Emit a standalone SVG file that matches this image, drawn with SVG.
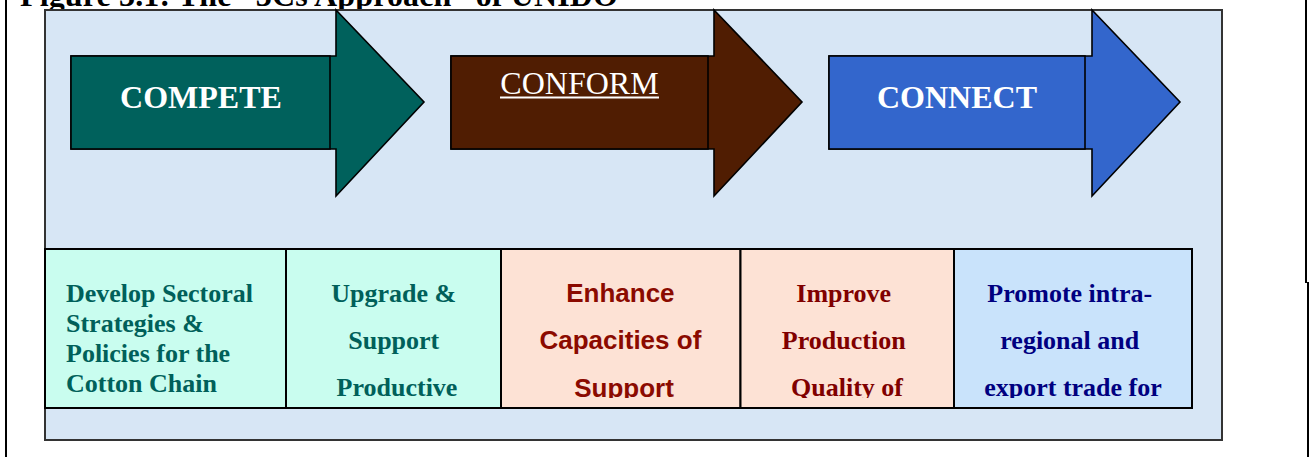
<svg xmlns="http://www.w3.org/2000/svg" width="1313" height="457" viewBox="0 0 1313 457">
  <style>
    .frame { stroke: #000; stroke-width: 2; fill: none; }
    .arrow { stroke: #000; stroke-width: 1.6; stroke-linejoin: miter; }
    .head { font-family: "Liberation Serif", "Times New Roman", serif; font-size: 32px; fill: #fff; text-anchor: middle; }
    .box { stroke: #000; stroke-width: 2; }
    .tnr { font-family: "Liberation Serif", "Times New Roman", serif; font-size: 26px; font-weight: bold; }
    .ari { font-family: "Liberation Sans", Arial, sans-serif; font-size: 26px; font-weight: bold; }
    .mid { text-anchor: middle; }
  </style>
  <defs>
    <clipPath id="clipText">
      <rect x="40" y="245" width="1160" height="153"/>
    </clipPath>
  </defs>
  <rect x="0" y="0" width="1313" height="457" fill="#fff"/>
  <!-- outer page lines -->
  <line x1="6" y1="0" x2="6" y2="457" class="frame"/>
  <line x1="1306" y1="0" x2="1306" y2="283" class="frame"/>
  <line x1="1308" y1="282" x2="1308" y2="457" class="frame"/>
  <!-- title (cut off at top) -->
  <text x="20" y="6" font-family="'Liberation Serif', 'Times New Roman', serif" font-size="32" font-weight="bold" fill="#000" textLength="598" lengthAdjust="spacing">Figure 3.1: The “3Cs Approach” of UNIDO</text>
  <!-- panel -->
  <rect id="panel" x="45" y="10" width="1177" height="430" fill="#d7e6f5" stroke="#333" stroke-width="2"/>

  <g id="connectors">
    <polygon id="arrow-compete" class="arrow" fill="#00615c" points="71,56 336,56 336,10 424,102 336,196 336,149 71,149"/>
    <polygon id="arrow-conform" class="arrow" fill="#501d02" points="451,56 714,56 714,10 802,102 714,196 714,149 451,149"/>
    <polygon id="arrow-connect" class="arrow" fill="#3366cc" points="829,56 1092,56 1092,10 1180,102 1092,196 1092,149 829,149"/>
  </g>

  <g id="compete">
    <rect x="71" y="56" width="259" height="93" class="arrow" fill="#00615c"/>
    <text x="201" y="108" class="head" font-weight="bold">COMPETE</text>
  </g>
  <g id="conform">
    <rect x="451" y="56" width="257" height="93" class="arrow" fill="#501d02"/>
    <text x="579.5" y="94" class="head">CONFORM</text>
    <line x1="500" y1="97.5" x2="659" y2="97.5" stroke="#fff" stroke-width="2"/>
  </g>
  <g id="connect">
    <rect x="829" y="56" width="256" height="93" class="arrow" fill="#3366cc"/>
    <text x="957" y="108" class="head" font-weight="bold">CONNECT</text>
  </g>

  <g id="box-develop">
    <rect x="45" y="249" width="241" height="159" class="box" fill="#c9fdef"/>
    <text class="tnr" fill="#00605a" clip-path="url(#clipText)">
      <tspan x="66" y="302">Develop Sectoral</tspan>
      <tspan x="66" y="332">Strategies &amp;</tspan>
      <tspan x="66" y="362">Policies for the</tspan>
      <tspan x="66" y="392">Cotton Chain</tspan>
    </text>
  </g>
  <g id="box-upgrade">
    <rect x="286" y="249" width="215" height="159" class="box" fill="#c9fdef"/>
    <text class="tnr mid" fill="#00605a" clip-path="url(#clipText)">
      <tspan x="397" y="302">Upgrade &amp;</tspan>
      <tspan x="397" y="349">Support</tspan>
      <tspan x="397" y="396">Productive</tspan>
    </text>
  </g>
  <g id="box-enhance">
    <rect x="501" y="249" width="239.5" height="159" class="box" fill="#fde2d5"/>
    <text class="ari mid" fill="#8b0a00" clip-path="url(#clipText)">
      <tspan x="624" y="302">Enhance</tspan>
      <tspan x="624" y="349">Capacities of</tspan>
      <tspan x="624" y="397">Support</tspan>
    </text>
  </g>
  <g id="box-improve">
    <rect x="740.5" y="249" width="213.5" height="159" class="box" fill="#fde2d5"/>
    <text class="tnr mid" fill="#800000" clip-path="url(#clipText)">
      <tspan x="847" y="302">Improve</tspan>
      <tspan x="847" y="349">Production</tspan>
      <tspan x="847" y="396">Quality of</tspan>
    </text>
  </g>
  <g id="box-promote">
    <rect x="954" y="249" width="238" height="159" class="box" fill="#c9e3fb"/>
    <text class="tnr mid" fill="#000080" clip-path="url(#clipText)">
      <tspan x="1073" y="302">Promote intra-</tspan>
      <tspan x="1073" y="349">regional and</tspan>
      <tspan x="1073" y="396">export trade for</tspan>
    </text>
  </g>
</svg>
